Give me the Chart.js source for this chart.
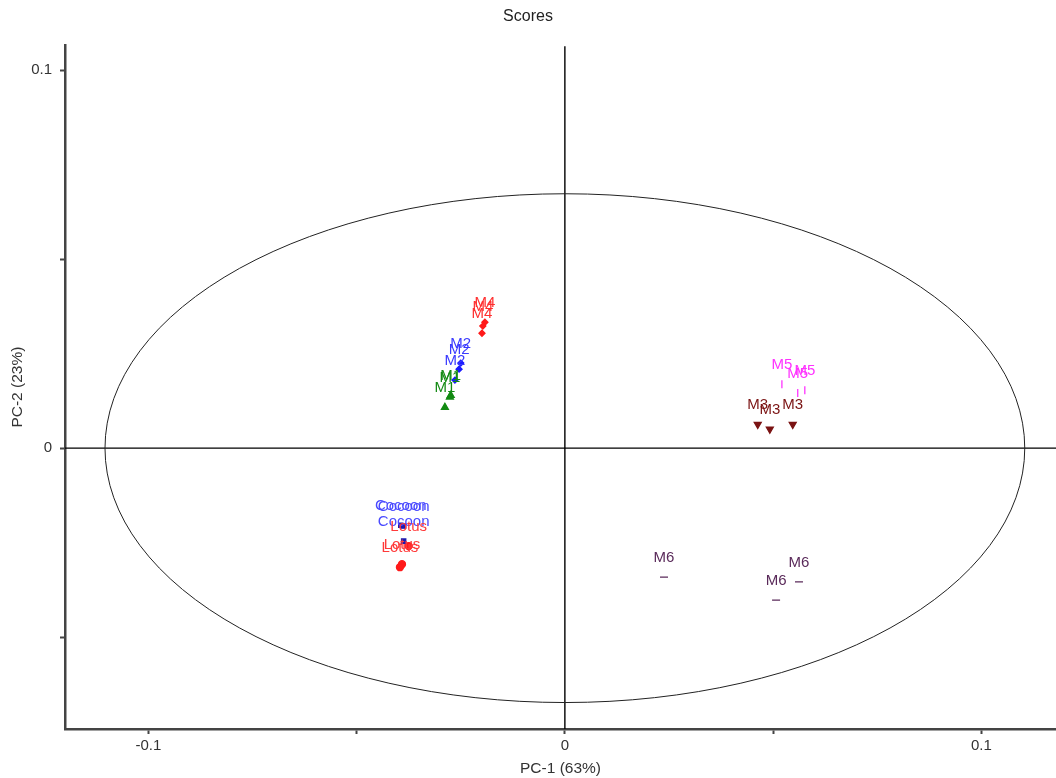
<!DOCTYPE html>
<html>
<head>
<meta charset="utf-8">
<script src="https://cdn.jsdelivr.net/npm/chart.js@4"></script>
<style>
  html, body { margin: 0; padding: 0; background: #fff; overflow: hidden; }
  #wrap { width: 1056px; height: 778px; }
</style>
</head>
<body>
<div id="wrap"><canvas id="scores"></canvas></div>
<script>
/* ======================
   DATA
====================== */
const groups = ["M4", "M2", "M1", "Cocoon", "Lotus", "M5", "M3", "M6"]

const m4 = [[-0.0192, 0.0333], [-0.0197, 0.0323], [-0.0199, 0.0304]]
const m2 = [[-0.0250, 0.0225], [-0.0254, 0.0209], [-0.0264, 0.0180]]
const m1 = [[-0.0274, 0.0140], [-0.0276, 0.0135], [-0.0288, 0.0108]]
const cocoon = [[-0.0394, -0.0204], [-0.0387, -0.0206], [-0.0387, -0.0246]]
const lotus = [[-0.0375, -0.0259], [-0.0391, -0.0307], [-0.0396, -0.0315]]
const m5 = [[0.0521, 0.0169], [0.0559, 0.0146], [0.0576, 0.0153]]
const m3 = [[0.0463, 0.0063], [0.0492, 0.0050], [0.0547, 0.0063]]
const m6 = [[0.0238, -0.0341], [0.0562, -0.0354], [0.0507, -0.0402]]

const xTicks = [-0.1, -0.05, 0, 0.05, 0.1]
const yTicks = [-0.05, 0, 0.05, 0.1]
const tickLabels = { "-0.1": "-0.1", "0": "0", "0.1": "0.1" }

// Hotelling ellipse (semi-axes in score units)
const ellipseRadii = [0.1104, 0.0673]

/* ======================
   STYLES
====================== */
const looks = {
  M4:     { color: "#ff1a1a", text: "#ff3030", style: "rectRot", r: 3, rot: 0 },
  M2:     { color: "#1a1aff", text: "#3a3aff", style: "rectRot", r: 3, rot: 0 },
  M1:     { color: "#138a13", text: "#138a13", style: "triangle", r: 4, rot: 0 },
  Cocoon: { color: "#1a1ab0", text: "#4a4aff", style: "rect", r: 3, rot: 0 },
  Lotus:  { color: "#ff1a1a", text: "#ff3a3a", style: "circle", r: 3.5, rot: 0 },
  M5:     { color: "#ff33ff", text: "#ff33ff", style: "line", r: 4, rot: 90 },
  M3:     { color: "#7a1212", text: "#7a1212", style: "triangle", r: 4, rot: 180 },
  M6:     { color: "#5a2a5a", text: "#5a2a5a", style: "line", r: 4, rot: 0 }
}

const series = [m4, m2, m1, cocoon, lotus, m5, m3, m6]

const datasets = groups.map((g, i) => ({
  label: g,
  data: series[i].map(([x, y]) => ({ x, y })),
  pointStyle: looks[g].style,
  pointRadius: looks[g].r,
  pointRotation: looks[g].rot,
  backgroundColor: looks[g].color,
  borderColor: looks[g].color,
  borderWidth: 1.3
}))

/* ======================
   PLUGINS
====================== */
const axesCross = {
  id: "axesCross",
  beforeDatasetsDraw(chart) {
    const { ctx, chartArea: a, scales: { x, y } } = chart
    const cx = x.getPixelForValue(0)
    const cy = y.getPixelForValue(0)
    ctx.save()
    ctx.strokeStyle = "#000"
    ctx.lineWidth = 1.4
    ctx.beginPath()
    ctx.moveTo(cx, a.top + 1); ctx.lineTo(cx, a.bottom)
    ctx.moveTo(a.left, cy); ctx.lineTo(a.right, cy)
    ctx.stroke()

    // ellipse
    const rx = x.getPixelForValue(ellipseRadii[0]) - cx
    const ry = cy - y.getPixelForValue(ellipseRadii[1])
    ctx.lineWidth = 1
    ctx.strokeStyle = "#222"
    ctx.beginPath()
    ctx.ellipse(cx, cy, rx, ry, 0, 0, Math.PI * 2)
    ctx.stroke()
    ctx.restore()
  }
}

const pointNames = {
  id: "pointNames",
  afterDatasetsDraw(chart) {
    const { ctx } = chart
    ctx.save()
    ctx.font = "15px 'Liberation Sans', Arial, sans-serif"
    ctx.textAlign = "center"
    ctx.textBaseline = "middle"
    chart.data.datasets.forEach((ds, i) => {
      ctx.fillStyle = looks[ds.label].text
      chart.getDatasetMeta(i).data.forEach(pt => {
        ctx.fillText(ds.label, pt.x, pt.y - 19)
      })
    })
    ctx.restore()
  }
}

/* ======================
   CHART
====================== */
const family = "'Liberation Sans', Arial, sans-serif"
const tickFont = { family, size: 15 }
const titleFont = { family, size: 15.5 }

const noPad = s => { s.paddingLeft = 0; s.paddingRight = 0; s.paddingTop = 0; s.paddingBottom = 0 }

new Chart(document.getElementById("scores"), {
  type: "scatter",
  data: { datasets },
  plugins: [axesCross, pointNames],
  options: {
    responsive: true,
    maintainAspectRatio: false,
    animation: false,
    layout: { padding: 0, autoPadding: false },
    plugins: {
      legend: { display: false },
      tooltip: { enabled: false },
      title: {
        display: true,
        text: "Scores",
        color: "#222",
        font: { family, size: 16, weight: "normal" },
        padding: { top: 7, bottom: 19 }
      }
    },
    scales: {
      x: {
        min: -0.12,
        max: 0.1179,
        afterBuildTicks: s => { s.ticks = xTicks.map(v => ({ value: v })) },
        afterFit: s => { s.height = 49; noPad(s) },
        ticks: {
          color: "#333",
          font: tickFont,
          padding: 3,
          maxRotation: 0,
          autoSkip: false,
          callback: v => tickLabels[String(+v.toFixed(3))] ?? ""
        },
        grid: { drawOnChartArea: false, drawTicks: true, tickLength: 5, color: "#444", tickWidth: 2 },
        border: { display: true, color: "#444", width: 2.5 },
        title: { display: true, text: "PC-1 (63%)", color: "#333", font: titleFont, padding: { top: 0, bottom: 0 } }
      },
      y: {
        min: -0.0743,
        max: 0.1066,
        afterBuildTicks: s => { s.ticks = yTicks.map(v => ({ value: v })) },
        afterFit: s => { s.width = 65; noPad(s) },
        ticks: {
          color: "#333",
          font: tickFont,
          padding: 8,
          autoSkip: false,
          callback: v => tickLabels[String(+v.toFixed(3))] ?? ""
        },
        grid: { drawOnChartArea: false, drawTicks: true, tickLength: 5, color: "#444", tickWidth: 2 },
        border: { display: true, color: "#444", width: 2.5 },
        title: { display: true, text: "PC-2 (23%)", color: "#333", font: titleFont, padding: { top: 8, bottom: 0 } }
      }
    }
  }
})
</script>
</body>
</html>
